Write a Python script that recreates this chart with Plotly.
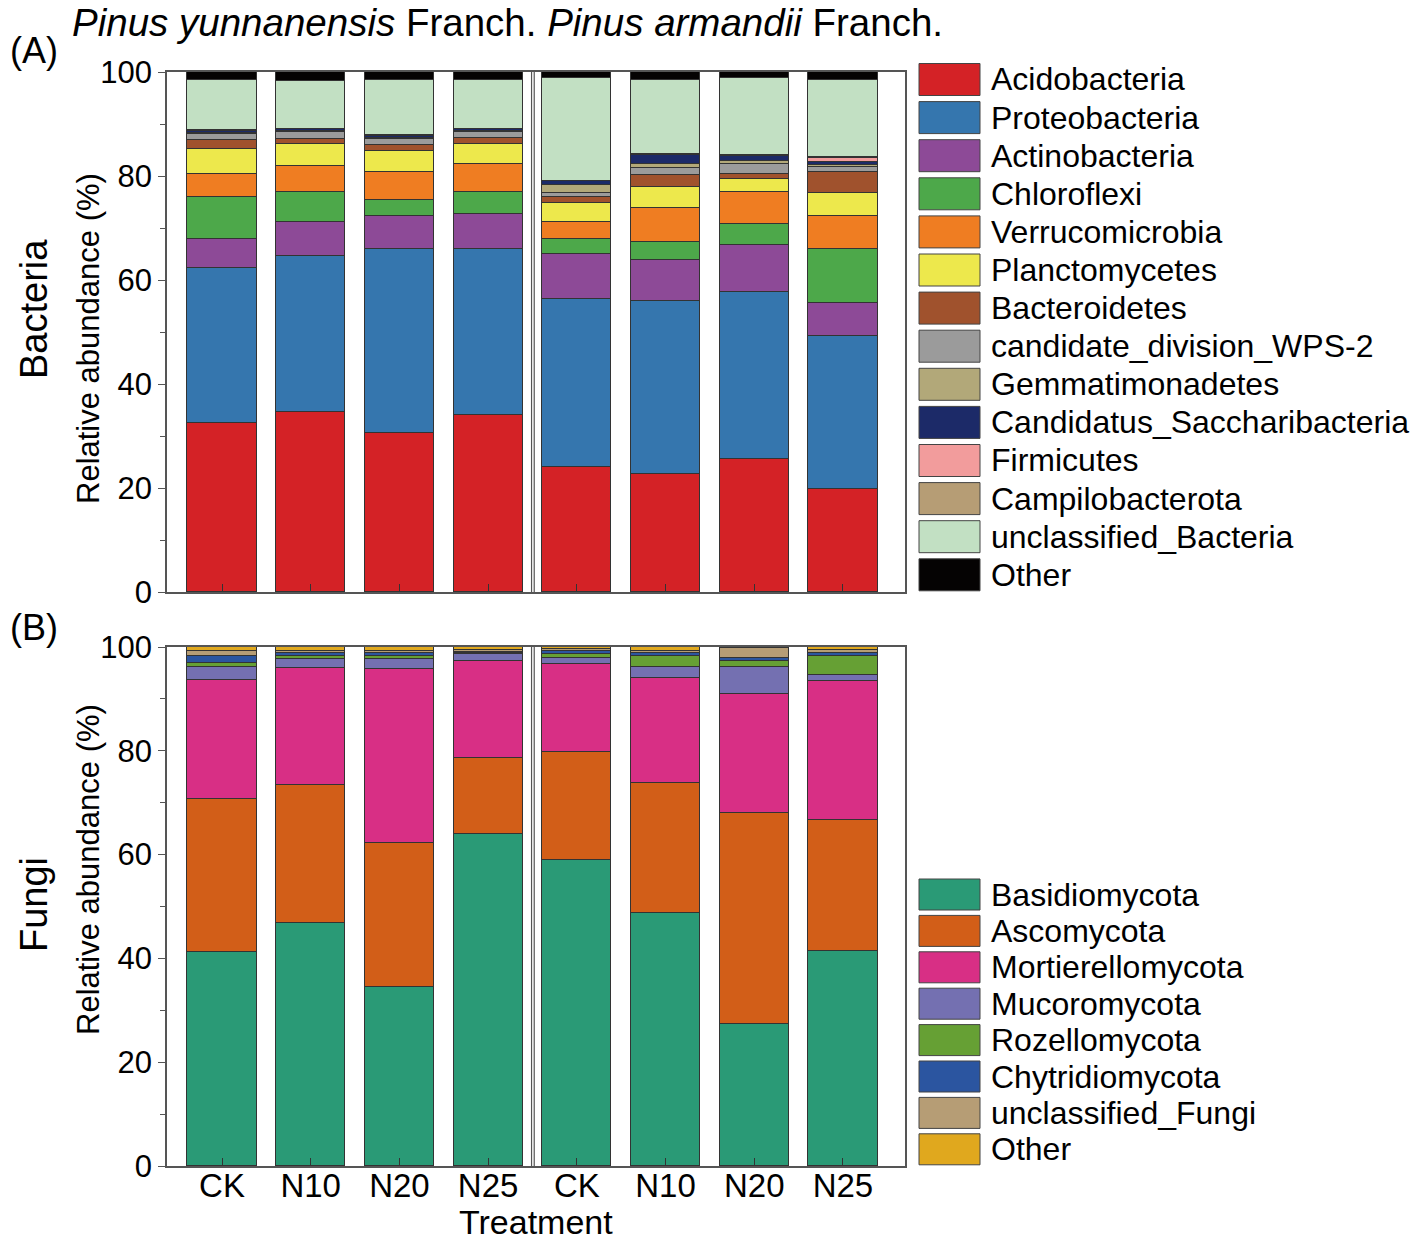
import plotly.graph_objects as go

# Traitements (deux espèces de pins, 4 traitements chacune)
treatments = ['CK', 'N10', 'N20', 'N25', 'CK', 'N10', 'N20', 'N25']
xpos = list(range(len(treatments)))

# Bactéries - abondance relative (%) par phylum
bact_names = ['Acidobacteria', 'Proteobacteria', 'Actinobacteria', 'Chloroflexi',
              'Verrucomicrobia', 'Planctomycetes', 'Bacteroidetes', 'candidate_division_WPS-2',
              'Gemmatimonadetes', 'Candidatus_Saccharibacteria', 'Firmicutes',
              'Campilobacterota', 'unclassified_Bacteria', 'Other']
bact_colors = ['#D42226', '#3576AE', '#8D4A97', '#4DA84A', '#EF7D22', '#EDE84C',
               '#A0522D', '#9B9B9B', '#B2A879', '#1C2A68', '#F29C9C', '#B69D75',
               '#C2E0C3', '#050303']
acidobacteria = [32.5, 34.6, 30.6, 34.0, 24.0, 22.7, 25.6, 19.8]
proteobacteria = [29.8, 30.0, 35.4, 32.0, 32.4, 33.3, 32.0, 29.4]
actinobacteria = [5.6, 6.5, 6.3, 6.7, 8.6, 7.8, 9.1, 6.4]
chloroflexi = [8.1, 5.9, 3.0, 4.3, 2.9, 3.6, 4.1, 10.4]
verrucomicrobia = [4.4, 4.9, 5.5, 5.3, 3.2, 6.4, 6.1, 6.4]
planctomycetes = [4.7, 4.2, 4.1, 3.9, 3.8, 4.1, 2.5, 4.3]
bacteroidetes = [1.8, 1.1, 1.1, 1.2, 1.0, 2.2, 0.9, 4.0]
wps2 = [1.1, 1.3, 1.1, 1.1, 0.9, 1.5, 2.0, 1.0]
gemmatimonadetes = [0.3, 0.2, 0.3, 0.2, 1.4, 0.8, 0.6, 0.4]
saccharibacteria = [0.4, 0.3, 0.3, 0.3, 0.8, 1.6, 0.9, 0.5]
firmicutes = [0.0, 0.0, 0.0, 0.0, 0.0, 0.0, 0.0, 0.9]
campilobacterota = [0.1, 0.1, 0.1, 0.1, 0.1, 0.3, 0.3, 0.2]
unclassified_bacteria = [9.6, 9.2, 10.7, 9.4, 19.7, 14.2, 14.7, 14.8]
other_bacteria = [1.6, 1.7, 1.5, 1.5, 1.2, 1.5, 1.2, 1.5]
bact_values = [acidobacteria, proteobacteria, actinobacteria, chloroflexi, verrucomicrobia,
               planctomycetes, bacteroidetes, wps2, gemmatimonadetes, saccharibacteria,
               firmicutes, campilobacterota, unclassified_bacteria, other_bacteria]

# Champignons - abondance relative (%) par phylum
fungi_names = ['Basidiomycota', 'Ascomycota', 'Mortierellomycota', 'Mucoromycota',
               'Rozellomycota', 'Chytridiomycota', 'unclassified_Fungi', 'Other']
fungi_colors = ['#2A9A76', '#D25E18', '#D82F85', '#7470B1', '#66A034', '#2B55A0',
                '#B69D75', '#E0A81E']
basidiomycota = [41.2, 46.8, 34.5, 64.0, 59.0, 48.7, 27.4, 41.4]
ascomycota = [29.5, 26.6, 27.7, 14.6, 20.8, 25.1, 40.6, 25.3]
mortierellomycota = [22.9, 22.6, 33.5, 18.7, 16.9, 20.3, 22.9, 26.7]
mucoromycota = [2.5, 1.6, 1.9, 1.3, 1.1, 2.0, 5.3, 1.3]
rozellomycota = [0.9, 0.6, 0.6, 0.2, 0.8, 2.2, 1.1, 3.6]
chytridiomycota = [1.3, 0.6, 0.6, 0.2, 0.7, 0.5, 0.6, 0.6]
unclassified_fungi = [0.9, 0.5, 0.4, 0.5, 0.4, 0.4, 1.9, 0.6]
other_fungi = [0.8, 0.7, 0.8, 0.5, 0.3, 0.8, 0.2, 0.5]
fungi_values = [basidiomycota, ascomycota, mortierellomycota, mucoromycota, rozellomycota,
                chytridiomycota, unclassified_fungi, other_fungi]

W, H = 1418, 1244
FONT = 'Liberation Sans, Arial, sans-serif'


def px(x):
    return x / W


def py(y):
    return 1 - y / H


fig = go.Figure()

for name, col, vals in zip(bact_names, bact_colors, bact_values):
    fig.add_trace(go.Bar(x=xpos, y=vals, name=name, marker_color=col,
                         marker_line=dict(color='#333333', width=1), width=0.78,
                         showlegend=False, xaxis='x', yaxis='y'))

for name, col, vals in zip(fungi_names, fungi_colors, fungi_values):
    fig.add_trace(go.Bar(x=xpos, y=vals, name=name, marker_color=col,
                         marker_line=dict(color='#333333', width=1), width=0.78,
                         showlegend=False, xaxis='x2', yaxis='y2'))

xcommon = dict(range=[-0.62, 7.70], tickvals=xpos, ticktext=treatments,
               ticks='inside', ticklen=8, tickcolor='#333333', showline=True,
               linecolor='#555555', linewidth=1.5, mirror=True, showgrid=False,
               zeroline=False, automargin=False, domain=[px(167), px(905)],
               ticklabelstandoff=-10,
               tickfont=dict(size=33, color='black', family=FONT))
ycommon = dict(range=[0, 100], tickvals=[0, 20, 40, 60, 80, 100], ticks='outside',
               ticklen=7, tickcolor='#555555', showline=True, linecolor='#555555',
               linewidth=1.5, mirror=True, showgrid=False, zeroline=False,
               automargin=False, minor=dict(dtick=10, ticks='outside', ticklen=5,
                                            tickcolor='#555555'),
               tickfont=dict(size=31, color='black', family=FONT))

fig.update_layout(
    width=W, height=H, barmode='stack', bargap=0,
    margin=dict(l=0, r=0, t=0, b=0),
    plot_bgcolor='white', paper_bgcolor='white',
    font=dict(family=FONT, color='black'),
    xaxis=dict(xcommon, anchor='y', showticklabels=False),
    yaxis=dict(ycommon, anchor='x', domain=[py(592), py(72)]),
    xaxis2=dict(xcommon, anchor='y2'),
    yaxis2=dict(ycommon, anchor='x2', domain=[py(1166), py(647)]),
)

# Séparation entre les deux espèces
for ya in ['y', 'y2']:
    for xv in [3.49, 3.52]:
        fig.add_shape(type='line', xref=ya.replace('y', 'x'), yref=ya,
                      x0=xv, x1=xv, y0=0, y1=100,
                      line=dict(color='#555555', width=1.2))


def label(x, y, text, size, angle=0, xanchor='center'):
    return dict(x=px(x), y=py(y), xref='paper', yref='paper', xanchor=xanchor,
                yanchor='middle', showarrow=False, text=text, textangle=angle,
                font=dict(size=size))


annots = [
    label(70, 22, '<i>Pinus yunnanensis</i> Franch. <i>Pinus armandii</i> Franch.', 38.5,
          xanchor='left'),
    label(34, 50, '(A)', 36),
    label(34, 627, '(B)', 36),
    label(34, 309, 'Bacteria', 38, -90),
    label(34, 905, 'Fungi', 38, -90),
    label(88, 339, 'Relative abundance (%)', 31, -90),
    label(88, 870, 'Relative abundance (%)', 31, -90),
    label(536, 1222, 'Treatment', 34),
]

# Légendes dessinées à la main (grands carrés comme dans la figure)
shapes = []
for i, (name, col) in enumerate(zip(bact_names, bact_colors)):
    yc = 79.5 + i * 38.1
    shapes.append(dict(type='rect', xref='paper', yref='paper', x0=px(919), x1=px(980),
                       y0=py(yc - 16), y1=py(yc + 16), fillcolor=col,
                       line=dict(color='#444444', width=1)))
    annots.append(label(989, yc, name, 32, xanchor='left'))

for i, (name, col) in enumerate(zip(fungi_names, fungi_colors)):
    yc = 894.5 + i * 36.4
    shapes.append(dict(type='rect', xref='paper', yref='paper', x0=px(919), x1=px(980),
                       y0=py(yc - 15.5), y1=py(yc + 15.5), fillcolor=col,
                       line=dict(color='#444444', width=1)))
    annots.append(label(989, yc, name, 32, xanchor='left'))

for s in shapes:
    fig.add_shape(s)
fig.update_layout(annotations=annots)

fig.write_html("out.html", config={'displayModeBar': False},
               post_script="document.body.style.margin='0';")
